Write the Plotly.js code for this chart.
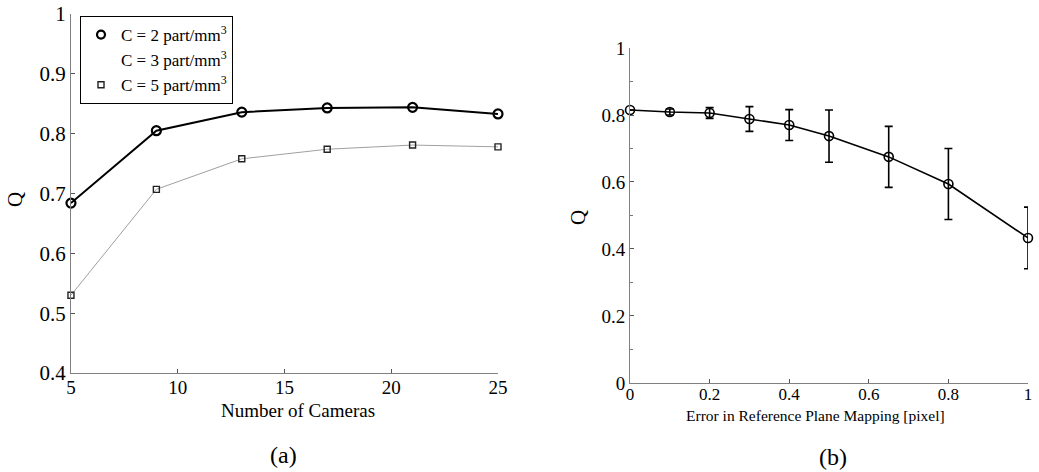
<!DOCTYPE html>
<html>
<head>
<meta charset="utf-8">
<script src="https://cdn.plot.ly/plotly-3.0.1.min.js"></script>
<style>html,body{margin:0;padding:0;background:#fff;}#chart{width:1039px;height:472px;}</style>
</head>
<body>
<div id="chart"></div>
<script>
// Panel (a)
var cameras = [5, 9, 13, 17, 21, 25];
var qC2 = [0.684, 0.805, 0.836, 0.843, 0.844, 0.833];
var qC5 = [0.530, 0.707, 0.758, 0.774, 0.781, 0.778];
var legendNames = ['C = 2 part/mm<sup>3</sup>', 'C = 3 part/mm<sup>3</sup>', 'C = 5 part/mm<sup>3</sup>'];

// Panel (b)
var mapErr = [0, 0.1, 0.2, 0.3, 0.4, 0.5, 0.65, 0.8, 1.0];
var qMap = [0.815, 0.809, 0.806, 0.788, 0.770, 0.737, 0.675, 0.594, 0.433];
var qMapErr = [0, 0.009, 0.016, 0.037, 0.046, 0.078, 0.091, 0.106, 0.092];

var serif = 'Liberation Serif';

var traces = [
  {x: cameras, y: qC2, xaxis: 'x', yaxis: 'y', mode: 'lines+markers', showlegend: false, cliponaxis: false,
   line: {color: '#000', width: 2}, marker: {symbol: 'circle-open', size: 9, color: '#000', line: {width: 2.2, color: '#000'}}},
  {x: cameras, y: qC5, xaxis: 'x', yaxis: 'y', mode: 'lines+markers', showlegend: false, cliponaxis: false,
   line: {color: '#a0a0a0', width: 1}, marker: {symbol: 'square-open', size: 6, color: '#222', line: {width: 1.4, color: '#222'}}},
  // legend-only entries
  {x: [null], y: [null], xaxis: 'x', yaxis: 'y', mode: 'markers', name: legendNames[0],
   marker: {symbol: 'circle-open', size: 8, color: '#000', line: {width: 2.2, color: '#000'}}},
  {x: [null], y: [null], xaxis: 'x', yaxis: 'y', mode: 'lines', name: legendNames[1],
   line: {color: 'rgba(255,255,255,0)', width: 1}},
  {x: [null], y: [null], xaxis: 'x', yaxis: 'y', mode: 'markers', name: legendNames[2],
   marker: {symbol: 'square-open', size: 6, color: '#222', line: {width: 1.4, color: '#222'}}},
  {x: mapErr, y: qMap, xaxis: 'x2', yaxis: 'y2', mode: 'lines+markers', showlegend: false, cliponaxis: false,
   line: {color: '#000', width: 1.6}, marker: {symbol: 'circle-open', size: 9, color: '#000', line: {width: 1.6, color: '#000'}},
   error_y: {type: 'data', array: qMapErr, visible: true, color: '#000', thickness: 1.6, width: 4}}
];

var axCommon = {showgrid: false, zeroline: false, showline: true, linecolor: '#808080', linewidth: 1,
  ticks: 'inside', tickcolor: '#555', ticklen: 4, mirror: false, automargin: false};

function ann(text, px, py, size, angle) {
  return {text: text, xref: 'paper', yref: 'paper', x: px/1039, y: 1 - py/472, xanchor: 'center', yanchor: 'middle',
    showarrow: false, textangle: angle || 0, font: {size: size, family: serif, color: '#000'}};
}

var layout = {
  width: 1039, height: 472,
  margin: {l: 0, r: 0, t: 0, b: 0},
  paper_bgcolor: '#fff', plot_bgcolor: '#fff',
  font: {family: serif, color: '#000'},
  xaxis: Object.assign({}, axCommon, {domain: [0.0683, 0.4793], range: [5, 25], tickvals: [5, 10, 15, 20, 25],
    tickfont: {size: 19, family: serif}, anchor: 'y', ticklabelstandoff: -3}),
  yaxis: Object.assign({}, axCommon, {domain: [0.2097, 0.9703], range: [0.4, 1], dtick: 0.1, tick0: 0.4,
    tickfont: {size: 21, family: serif}, anchor: 'x'}),
  xaxis2: Object.assign({}, axCommon, {domain: [0.6064, 0.9894], range: [0, 1], dtick: 0.2, tick0: 0,
    tickfont: {size: 17, family: serif}, anchor: 'y2', ticklabelstandoff: -4}),
  yaxis2: Object.assign({}, axCommon, {domain: [0.1886, 0.8983], range: [0, 1], dtick: 0.2, tick0: 0,
    tickfont: {size: 19, family: serif}, anchor: 'x2',
    minor: {dtick: 0.1, ticks: 'inside', ticklen: 3, tickcolor: '#777'}}),
  showlegend: true,
  legend: {x: 80/1039, y: 1 - 16/472, xanchor: 'left', yanchor: 'top', bordercolor: '#000', borderwidth: 1,
    bgcolor: '#fff', font: {size: 17, family: serif}, itemwidth: 30, tracegroupgap: 0},
  annotations: [
    ann('Number of Cameras', 298, 410, 19),
    ann('Q', 15, 200, 21, -90),
    ann('Error in Reference Plane Mapping [pixel]', 815, 415, 15.5),
    ann('Q', 578, 218, 21, -90),
    ann('(a)', 283, 455, 24),
    ann('(b)', 833, 457, 24)
  ]
};

Plotly.newPlot('chart', traces, layout, {staticPlot: true, displayModeBar: false});
</script>
</body>
</html>
